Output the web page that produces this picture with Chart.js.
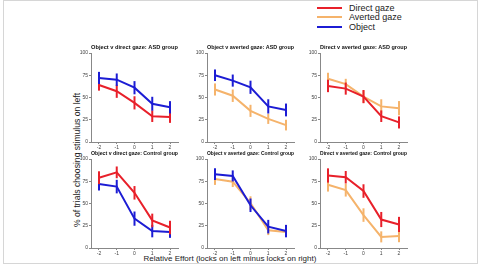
<!DOCTYPE html>
<html>
<head>
<meta charset="utf-8">
<script src="https://cdn.jsdelivr.net/npm/chart.js@4/dist/chart.umd.min.js"></script>
<style>
  body { margin: 0; width: 480px; height: 264px; background: #fff; position: relative; overflow: hidden; font-family: "Liberation Sans", Arial, sans-serif; }
  #frame { position: absolute; left: 3px; top: 0; width: 473px; height: 262px; border: 1px solid #d6d6d6; }
  canvas { position: absolute; }
  .lg-line { position: absolute; left: 317px; width: 25px; height: 2px; }
  .lg-text { position: absolute; left: 349px; font-size: 9px; line-height: 10px; color: #222; white-space: nowrap; }
  #ylab { position: absolute; left: 77px; top: 160px; transform: translate(-50%, -50%) rotate(-90deg); font-size: 8.6px; color: #222; white-space: nowrap; }
  #xlab { position: absolute; left: 230px; top: 258px; transform: translate(-50%, -50%); font-size: 8px; color: #222; white-space: nowrap; }
</style>
</head>
<body>
<div id="frame"></div>

<div class="lg-line" style="top:7px;background:#e8202a"></div>
<div class="lg-text" style="top:3px">Direct gaze</div>
<div class="lg-line" style="top:16px;background:#f5b36b"></div>
<div class="lg-text" style="top:12px">Averted gaze</div>
<div class="lg-line" style="top:26px;background:#1c1cd4"></div>
<div class="lg-text" style="top:22px">Object</div>

<div id="ylab">% of trials choosing stimulus  on left</div>
<div id="xlab">Relative Effort (locks on left minus locks on right)</div>

<canvas id="p1" width="112" height="111" style="left:69px;top:43px"></canvas>
<canvas id="p2" width="112" height="111" style="left:185px;top:43px"></canvas>
<canvas id="p3" width="112" height="111" style="left:298px;top:43px"></canvas>
<canvas id="p4" width="112" height="111" style="left:69px;top:149px"></canvas>
<canvas id="p5" width="112" height="111" style="left:185px;top:149px"></canvas>
<canvas id="p6" width="112" height="111" style="left:298px;top:149px"></canvas>

<script>
const effort = [-2, -1, 0, 1, 2];
const yTicks = [0, 25, 50, 75, 100];

const titles = [
  "Object v direct gaze: ASD group",
  "Object v averted gaze: ASD group",
  "Direct v averted gaze: ASD group",
  "Object v direct gaze: Control group",
  "Object v averted gaze: Control group",
  "Direct v averted gaze: Control group",
];

// ASD group
const asdOD_object = [72, 70, 61, 43, 39];
const asdOD_objectErr = [6.8, 7, 7.4, 7.8, 6.9];
const asdOD_direct = [64, 57, 44, 29, 28];
const asdOD_directErr = [6.3, 7.4, 7.4, 6.5, 6.5];

const asdOA_object = [75, 69, 61.5, 40, 36];
const asdOA_objectErr = [6.5, 6.8, 7.4, 8, 7.2];
const asdOA_averted = [59, 52, 35, 26, 19];
const asdOA_avertedErr = [6.8, 7, 6.8, 5.7, 6];

const asdDA_direct = [63, 60, 51, 29, 22];
const asdDA_directErr = [7, 6.8, 7.4, 6.5, 6.8];
const asdDA_averted = [71, 65, 51, 40, 38];
const asdDA_avertedErr = [6.8, 6, 7, 8, 8];

// Control group
const conOD_direct = [79, 85, 62, 31, 23];
const conOD_directErr = [7.2, 6.6, 7.6, 7.6, 7.6];
const conOD_object = [72, 69, 33, 19, 18];
const conOD_objectErr = [7.4, 7.6, 8, 7, 6.6];

const conOA_object = [83, 81, 48, 24, 19];
const conOA_objectErr = [6.6, 6.2, 7.6, 7.6, 7];
const conOA_averted = [77.5, 74.5, 50.5, 20, 18];
const conOA_avertedErr = [6.6, 6, 7.6, 5.5, 5.3];

const conDA_direct = [81.5, 79.5, 64, 32, 26.5];
const conDA_directErr = [8, 7, 7.6, 8.5, 8.5];
const conDA_averted = [71, 65, 37, 12.5, 13.5];
const conDA_avertedErr = [7.6, 7.2, 7.6, 6.2, 7];

const RED = "#e8202a";
const ORANGE = "#f5b36b";
const BLUE = "#1c1cd4";
const FONT = "'Liberation Sans', Arial, sans-serif";

// vertical error bars, drawn right after each line so layering follows dataset order
const errorBars = {
  id: "errorBars",
  afterDatasetDraw(chart, args) {
    const ds = chart.data.datasets[args.index];
    const ys = chart.scales.y;
    const ctx = chart.ctx;
    ctx.save();
    ctx.strokeStyle = ds.borderColor;
    ctx.lineWidth = 2;
    args.meta.data.forEach((pt, i) => {
      const v = ds.data[i].y, e = ds.err[i];
      ctx.beginPath();
      ctx.moveTo(pt.x, ys.getPixelForValue(v - e));
      ctx.lineTo(pt.x, ys.getPixelForValue(v + e));
      ctx.stroke();
    });
    ctx.restore();
  },
};

const series = (values, err, color) => ({
  data: effort.map((x, i) => ({ x: x, y: values[i] })),
  err: err,
  borderColor: color,
  borderWidth: 2,
  pointRadius: 0,
  tension: 0,
  fill: false,
});

const makePanel = (id, title, datasets) => {
  const ctx = document.getElementById(id);
  return new Chart(ctx, {
    type: "line",
    data: { datasets: datasets },
    options: {
      responsive: false,
      animation: false,
      devicePixelRatio: 1,
      layout: { padding: { right: 3 } },
      plugins: {
        legend: { display: false },
        tooltip: { enabled: false },
        title: {
          display: true,
          text: title,
          fullSize: false,
          color: "#111",
          font: { family: FONT, size: 6, weight: "bold", lineHeight: 8 / 6 },
          padding: { top: 0, bottom: 2 },
        },
      },
      scales: {
        x: {
          type: "linear",
          min: -2.45,
          max: 2.45,
          afterBuildTicks: (s) => { s.ticks = effort.map((v) => ({ value: v })); },
          afterFit: (s) => { s.height = 12; },
          ticks: { font: { family: FONT, size: 5 }, color: "#444", padding: 1, maxRotation: 0, autoSkip: false },
          grid: { drawOnChartArea: false, tickLength: 2, color: "#888" },
          border: { color: "#888" },
        },
        y: {
          min: 0,
          max: 100,
          afterBuildTicks: (s) => { s.ticks = yTicks.map((v) => ({ value: v })); },
          afterFit: (s) => { s.width = 22; },
          ticks: { font: { family: FONT, size: 5 }, color: "#444", padding: 1, autoSkip: false },
          grid: { drawOnChartArea: false, tickLength: 2, color: "#888" },
          border: { color: "#888" },
        },
      },
    },
    plugins: [errorBars],
  });
};

// first dataset is drawn on top
makePanel("p1", titles[0], [
  series(asdOD_object, asdOD_objectErr, BLUE),
  series(asdOD_direct, asdOD_directErr, RED),
]);
makePanel("p2", titles[1], [
  series(asdOA_object, asdOA_objectErr, BLUE),
  series(asdOA_averted, asdOA_avertedErr, ORANGE),
]);
makePanel("p3", titles[2], [
  series(asdDA_direct, asdDA_directErr, RED),
  series(asdDA_averted, asdDA_avertedErr, ORANGE),
]);
makePanel("p4", titles[3], [
  series(conOD_direct, conOD_directErr, RED),
  series(conOD_object, conOD_objectErr, BLUE),
]);
makePanel("p5", titles[4], [
  series(conOA_object, conOA_objectErr, BLUE),
  series(conOA_averted, conOA_avertedErr, ORANGE),
]);
makePanel("p6", titles[5], [
  series(conDA_direct, conDA_directErr, RED),
  series(conDA_averted, conDA_avertedErr, ORANGE),
]);
</script>
</body>
</html>
